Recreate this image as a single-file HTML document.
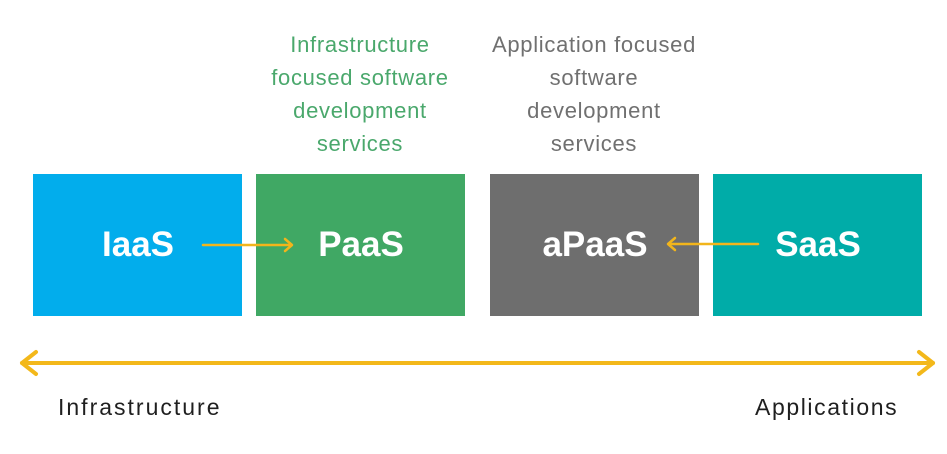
<!DOCTYPE html>
<html>
<head>
<meta charset="utf-8">
<style>
  html,body{margin:0;padding:0;background:#fff;}
  svg{display:block;}
</style>
</head>
<body>
<svg width="947" height="454" viewBox="0 0 947 454" xmlns="http://www.w3.org/2000/svg">
  <rect x="0" y="0" width="947" height="454" fill="#ffffff"/>

  <!-- top descriptions -->
  <g font-family="Liberation Sans, Arial, sans-serif" font-size="22" text-anchor="middle" letter-spacing="0.7">
    <g fill="#4aa86c">
      <text x="360" y="52">Infrastructure</text>
      <text x="360" y="85">focused software</text>
      <text x="360" y="118">development</text>
      <text x="360" y="151">services</text>
    </g>
    <g fill="#707070">
      <text x="594" y="52">Application focused</text>
      <text x="594" y="85">software</text>
      <text x="594" y="118">development</text>
      <text x="594" y="151">services</text>
    </g>
  </g>

  <!-- boxes -->
  <rect x="33" y="174" width="209" height="142" fill="#02adec"/>
  <rect x="256" y="174" width="209" height="142" fill="#40a864"/>
  <rect x="490" y="174" width="209" height="142" fill="#6e6e6e"/>
  <rect x="713" y="174" width="209" height="142" fill="#00aca8"/>

  <g font-family="Liberation Sans, Arial, sans-serif" font-size="35" font-weight="bold" fill="#ffffff" text-anchor="middle">
    <text x="138" y="256">IaaS</text>
    <text x="361" y="256">PaaS</text>
    <text x="595" y="256">aPaaS</text>
    <text x="818" y="256">SaaS</text>
  </g>

  <!-- small arrows -->
  <g stroke="#f2b51b" stroke-width="2.5" fill="none" stroke-linecap="round" stroke-linejoin="round">
    <line x1="203" y1="245" x2="291" y2="245"/>
    <polyline points="285,239 292,245 285,251"/>
    <line x1="669" y1="244" x2="758" y2="244"/>
    <polyline points="675,238 668,244 675,250"/>
  </g>

  <!-- long double arrow -->
  <g stroke="#f3b81a" stroke-width="4" fill="none" stroke-linecap="round" stroke-linejoin="round">
    <line x1="22" y1="363" x2="933" y2="363"/>
    <polyline points="36,352 22,363 36,374"/>
    <polyline points="919,352 933,363 919,374"/>
  </g>

  <!-- bottom labels -->
  <g font-family="Liberation Sans, Arial, sans-serif" font-size="23" fill="#1f1f1f">
    <text x="58" y="415" letter-spacing="2.0">Infrastructure</text>
    <text x="755" y="415" letter-spacing="1.6">Applications</text>
  </g>
</svg>
</body>
</html>
